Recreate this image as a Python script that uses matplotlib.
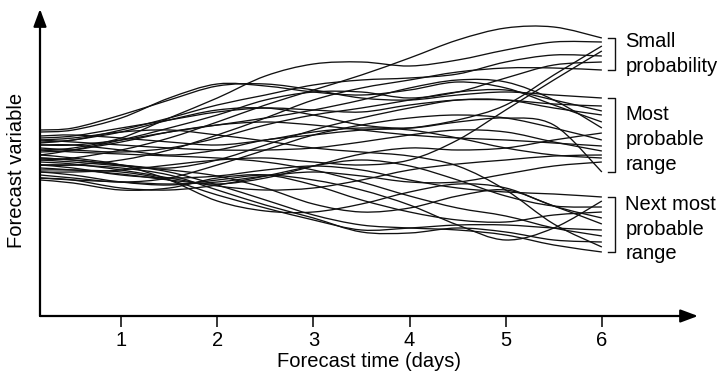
import matplotlib
matplotlib.use("Agg")
import matplotlib.pyplot as plt
from matplotlib.path import Path
from matplotlib.patches import PathPatch

plt.rcParams['font.family'] = ['Liberation Sans', 'DejaVu Sans']

# Forecast lead times (days) at which each ensemble member is sampled
days = [0.16, 0.5, 1, 1.5, 2, 2.5, 3, 3.5, 4, 4.5, 5, 5.5, 6]

# Ensemble members ending in the upper cluster
small_probability = [
    [166, 168, 178, 198, 218, 240, 252, 254, 250, 256, 266, 274, 274],
    [156, 158, 166, 178, 194, 211, 226, 241, 258, 276, 288, 289, 278],
    [171, 171, 166, 161, 166, 176, 181, 186, 188, 196, 211, 241, 270],
    [174, 176, 186, 198, 211, 221, 231, 236, 238, 242, 254, 261, 260],
    [161, 166, 176, 188, 201, 216, 224, 224, 218, 224, 238, 251, 254],
    [151, 151, 156, 166, 181, 198, 216, 228, 236, 244, 248, 248, 246],
    [144, 144, 146, 151, 156, 158, 154, 151, 156, 176, 206, 236, 265],
]

# Ensemble members ending in the middle cluster
most_probable = [
    [186, 188, 201, 216, 230, 232, 226, 218, 216, 221, 224, 221, 218],
    [178, 180, 188, 196, 204, 208, 206, 204, 211, 216, 216, 212, 210],
    [168, 166, 164, 168, 178, 191, 201, 208, 216, 224, 226, 216, 205],
    [158, 156, 151, 148, 156, 171, 186, 198, 208, 216, 216, 208, 201],
    [184, 186, 198, 218, 232, 230, 224, 221, 226, 234, 228, 211, 194],
    [171, 171, 176, 184, 191, 198, 206, 216, 228, 236, 234, 216, 188],
    [148, 146, 142, 136, 132, 138, 150, 162, 168, 166, 168, 176, 183],
    [141, 138, 134, 138, 151, 166, 181, 191, 198, 201, 198, 188, 176],
    [164, 166, 174, 184, 191, 194, 191, 186, 181, 178, 176, 173, 170],
    [176, 174, 171, 168, 166, 166, 168, 174, 181, 186, 184, 174, 165],
    [154, 152, 146, 138, 130, 126, 128, 136, 146, 152, 156, 160, 161],
    [180, 181, 178, 174, 171, 176, 184, 188, 186, 178, 168, 161, 158],
    [138, 136, 134, 132, 134, 140, 144, 140, 134, 134, 142, 150, 154],
    [173, 176, 184, 196, 206, 208, 201, 191, 188, 194, 198, 191, 144],
]

# Ensemble members ending in the lower cluster
next_most_probable = [
    [151, 148, 141, 138, 140, 146, 150, 146, 136, 128, 124, 122, 119],
    [144, 141, 134, 131, 136, 141, 136, 126, 111, 91, 76, 88, 115],
    [138, 136, 128, 126, 131, 140, 150, 156, 150, 136, 120, 110, 109],
    [136, 133, 126, 128, 138, 141, 131, 116, 104, 96, 94, 101, 104],
    [161, 158, 151, 136, 115, 105, 104, 112, 124, 132, 128, 110, 98],
    [156, 154, 150, 146, 140, 128, 112, 104, 108, 120, 126, 110, 92],
    [146, 146, 144, 136, 121, 108, 96, 86, 88, 91, 91, 88, 86],
    [166, 164, 162, 160, 158, 154, 146, 134, 120, 108, 100, 88, 80],
    [151, 151, 148, 141, 126, 111, 98, 84, 83, 88, 84, 76, 74],
    [176, 178, 184, 186, 181, 175, 168, 164, 160, 150, 126, 92, 69],
    [158, 156, 151, 144, 131, 116, 101, 91, 88, 86, 81, 71, 64],
]

tick_days = [1, 2, 3, 4, 5, 6]
group_lines = [
    ["Small", "probability"],
    ["Most", "probable", "range"],
    ["Next most", "probable", "range"],
]
group_baselines = [
    [269, 244],
    [196, 171, 146],
    [106, 81, 57],
]


def smooth_path(xs, ys):
    """Catmull-Rom curve through the samples, expressed as cubic Beziers."""
    n = len(xs)
    verts = [(xs[0], ys[0])]
    codes = [Path.MOVETO]
    for i in range(n - 1):
        x0, y0 = xs[max(i - 1, 0)], ys[max(i - 1, 0)]
        x1, y1 = xs[i], ys[i]
        x2, y2 = xs[i + 1], ys[i + 1]
        x3, y3 = xs[min(i + 2, n - 1)], ys[min(i + 2, n - 1)]
        verts += [(x1 + (x2 - x0) / 6, y1 + (y2 - y0) / 6),
                  (x2 - (x3 - x1) / 6, y2 - (y3 - y1) / 6),
                  (x2, y2)]
        codes += [Path.CURVE4] * 3
    return Path(verts, codes)


fig = plt.figure(figsize=(7.23, 3.73), dpi=100)
ax = fig.add_axes([40 / 723, 57 / 373, 658 / 723, 307 / 373])
ax.set_xlim(0.156, 7.0)
ax.set_ylim(0, 307)

groups = [small_probability, most_probable, next_most_probable]
for members in groups:
    for values in members:
        ax.add_patch(PathPatch(smooth_path(days, values), facecolor='none',
                               edgecolor='#111111', lw=0.95))

# Brackets grouping the end states, with their labels
for members, lines, baselines in zip(groups, group_lines, group_baselines):
    ends = [m[-1] for m in members]
    top, bottom = max(ends), min(ends)
    ax.plot([6.06, 6.14, 6.14, 6.06], [top, top, bottom, bottom],
            color='#111111', lw=1.0, clip_on=False)
    for text, yb in zip(lines, baselines):
        ax.text(6.245, yb, text, fontsize=14.5, ha='left', va='baseline',
                clip_on=False)

# Axes drawn as arrows
for s in ax.spines.values():
    s.set_visible(False)
arrow = dict(arrowstyle='-|>,head_length=0.75,head_width=0.28', lw=1.6,
             color='black', shrinkA=0, shrinkB=0, mutation_scale=14)
ax.annotate('', xy=(1, 0), xytext=(0, 0), xycoords='axes fraction',
            textcoords='axes fraction', arrowprops=arrow, annotation_clip=False)
ax.annotate('', xy=(0, 1), xytext=(0, 0), xycoords='axes fraction',
            textcoords='axes fraction', arrowprops=arrow, annotation_clip=False)

ax.set_xticks(tick_days)
ax.set_xticklabels([str(d) for d in tick_days])
ax.tick_params(axis='x', direction='out', length=8, width=1.1, pad=3,
               labelsize=14.5)
ax.set_yticks([])
ax.set_xlabel("Forecast time (days)", fontsize=14.5, labelpad=1)
fig.text(17 / 723, 1 - 170 / 373, "Forecast variable", rotation=90,
         ha='center', va='center', fontsize=14.5)

fig.savefig("out.png", dpi=100)
